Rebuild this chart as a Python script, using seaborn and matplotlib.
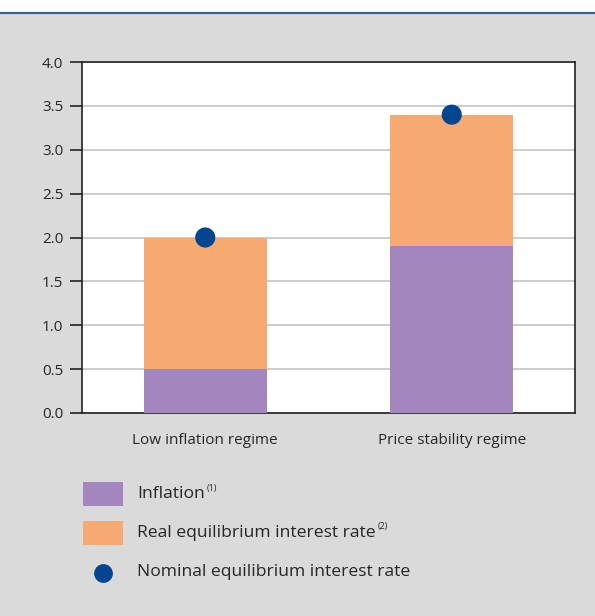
import matplotlib
matplotlib.use("Agg")
import matplotlib.pyplot as plt
import numpy as np
import pandas as pd
import seaborn as sns
from matplotlib.patches import Rectangle
from matplotlib.lines import Line2D

# Data
regimes   = ["Low inflation regime", "Price stability regime"]
inflation = [0.5, 1.9]
real_rate = [1.5, 1.5]
nominal   = [2.0, 3.4]

legend_labels = ["Inflation", "Real equilibrium interest rate", "Nominal equilibrium interest rate"]
legend_notes  = ["(1)", "(2)", ""]

PURPLE = "#a386be"
ORANGE = "#f6aa72"
BLUE   = "#03458f"
BG     = "#dadada"
TXT    = "#262626"

sns.set_style("white")
plt.rcParams["font.family"] = ["Open Sans", "DejaVu Sans"]

df = pd.DataFrame({
    "regime": regimes,
    "inflation": inflation,
    "total": np.array(inflation) + np.array(real_rate),
    "nominal": nominal,
})

fig = plt.figure(figsize=(5.95, 6.16), dpi=100, facecolor=BG)
W, H = 595, 616

# white strip and blue rule at the top
fig.add_artist(Rectangle((0, 1 - 12 / H), 1, 12 / H, transform=fig.transFigure,
                         facecolor="white", edgecolor="none"))
fig.add_artist(Line2D([0, 1], [1 - 12.5 / H] * 2, transform=fig.transFigure,
                      color="#3c5f98", lw=1.6))

ax = fig.add_axes([82 / W, 1 - 413 / H, (575 - 82) / W, (413 - 62) / H])
ax.set_facecolor("white")

sns.barplot(data=df, x="regime", y="total", color=ORANGE, width=0.5,
            saturation=1, linewidth=0, ax=ax, zorder=2)
sns.barplot(data=df, x="regime", y="inflation", color=PURPLE, width=0.5,
            saturation=1, linewidth=0, ax=ax, zorder=3)
sns.scatterplot(data=df, x="regime", y="nominal", color=BLUE, s=210,
                edgecolor="none", ax=ax, zorder=4, clip_on=False)

ax.set_xlim(-0.5, 1.5)
ax.set_ylim(0, 4.0)
ax.set_yticks(np.arange(0, 4.01, 0.5))
ax.set_yticklabels([f"{v:.1f}" for v in np.arange(0, 4.01, 0.5)])
ax.yaxis.grid(True, color="#c4c4c4", lw=1.2, zorder=0)
ax.set_axisbelow(True)
ax.set_xlabel("")
ax.set_ylabel("")
ax.tick_params(axis="y", left=True, length=8.5, width=1.2, color="#222222",
               labelsize=11, labelcolor=TXT, pad=5)
ax.tick_params(axis="x", bottom=False, labelsize=11, labelcolor=TXT, pad=11)
for sp in ax.spines.values():
    sp.set_color("#222222")
    sp.set_linewidth(1.2)

# legend drawn by hand
rows_y = [494, 533, 572]
texts = []
for i, (lab, note) in enumerate(zip(legend_labels, legend_notes)):
    yc = 1 - rows_y[i] / H
    if i < 2:
        fig.add_artist(Rectangle((83 / W, yc - 12 / H), 40 / W, 24 / H,
                                 transform=fig.transFigure,
                                 facecolor=[PURPLE, ORANGE][i], edgecolor="none"))
    else:
        fig.add_artist(Line2D([103 / W], [yc - 1 / H], transform=fig.transFigure,
                              marker="o", markersize=12.5, color=BLUE, lw=0))
    t = fig.text(137 / W, yc, lab, fontsize=12.6, color=TXT, va="center", ha="left")
    texts.append((t, note, yc))

fig.canvas.draw()
renderer = fig.canvas.get_renderer()
for t, note, yc in texts:
    if note:
        bb = t.get_window_extent(renderer)
        x1 = bb.x1 / (fig.dpi * fig.get_figwidth())
        fig.text(x1 + 2 / W, yc + 6 / H, note, fontsize=6.5, color=TXT,
                 va="center", ha="left")

fig.savefig("out.png", dpi=100, facecolor=BG)
